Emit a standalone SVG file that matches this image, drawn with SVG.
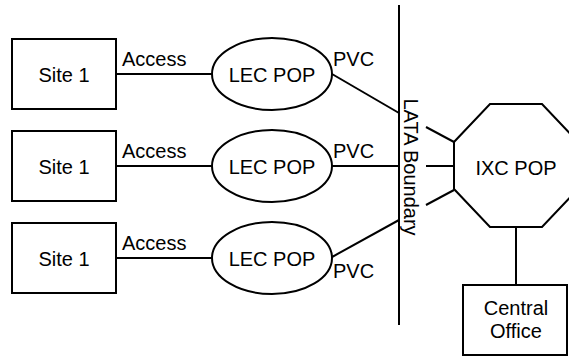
<svg xmlns="http://www.w3.org/2000/svg" width="569" height="356" viewBox="0 0 569 356">
<style>
.s{fill:#fff;stroke:#000;stroke-width:2}
.l{fill:none;stroke:#000;stroke-width:2}
text{font-family:"Liberation Sans",Arial,sans-serif;font-size:20px;fill:#000}
.c{text-anchor:middle}
</style>
<rect width="569" height="356" fill="#fff"/>
<g id="connectors">
<line class="l" x1="116" y1="74" x2="212" y2="74"/>
<line class="l" x1="116" y1="166" x2="212" y2="166"/>
<line class="l" x1="116" y1="258" x2="212" y2="258"/>
<line class="l" x1="332" y1="74" x2="399" y2="113"/>
<line class="l" x1="426" y1="127" x2="454" y2="142"/>
<line class="l" x1="332" y1="166" x2="399" y2="166"/>
<line class="l" x1="426" y1="166" x2="454" y2="166"/>
<line class="l" x1="332" y1="257" x2="399" y2="220"/>
<line class="l" x1="426" y1="205" x2="454" y2="190"/>
<line class="l" x1="516" y1="227" x2="516" y2="285"/>
<text x="122" y="66">Access</text>
<text x="122" y="158">Access</text>
<text x="122" y="250">Access</text>
<text x="333" y="66">PVC</text>
<text x="333" y="158">PVC</text>
<text x="333" y="278">PVC</text>
</g>
<g id="lata-boundary">
<line class="l" x1="399" y1="5" x2="399" y2="325"/>
<text class="c" transform="translate(404 167) rotate(90)">LATA Boundary</text>
</g>
<g id="site1a"><rect class="s" x="12" y="39" width="104" height="70"/><text class="c" x="64" y="82">Site 1</text></g>
<g id="site1b"><rect class="s" x="12" y="131" width="104" height="70"/><text class="c" x="64" y="174">Site 1</text></g>
<g id="site1c"><rect class="s" x="12" y="223" width="104" height="70"/><text class="c" x="64" y="266">Site 1</text></g>
<g id="lecpop1"><ellipse class="s" cx="272" cy="74" rx="60" ry="36"/><text class="c" x="272" y="82">LEC POP</text></g>
<g id="lecpop2"><ellipse class="s" cx="272" cy="166" rx="60" ry="36"/><text class="c" x="272" y="174">LEC POP</text></g>
<g id="lecpop3"><ellipse class="s" cx="272" cy="258" rx="60" ry="36"/><text class="c" x="272" y="266">LEC POP</text></g>
<g id="ixcpop"><polygon class="s" points="490,104 542,104 578,142 578,189 542,227 490,227 454,189 454,142"/><text class="c" x="516" y="175">IXC POP</text></g>
<g id="central-office"><rect class="s" x="463" y="285" width="104" height="70"/><text class="c" x="516" y="315">Central</text><text class="c" x="516" y="338">Office</text></g>
</svg>
